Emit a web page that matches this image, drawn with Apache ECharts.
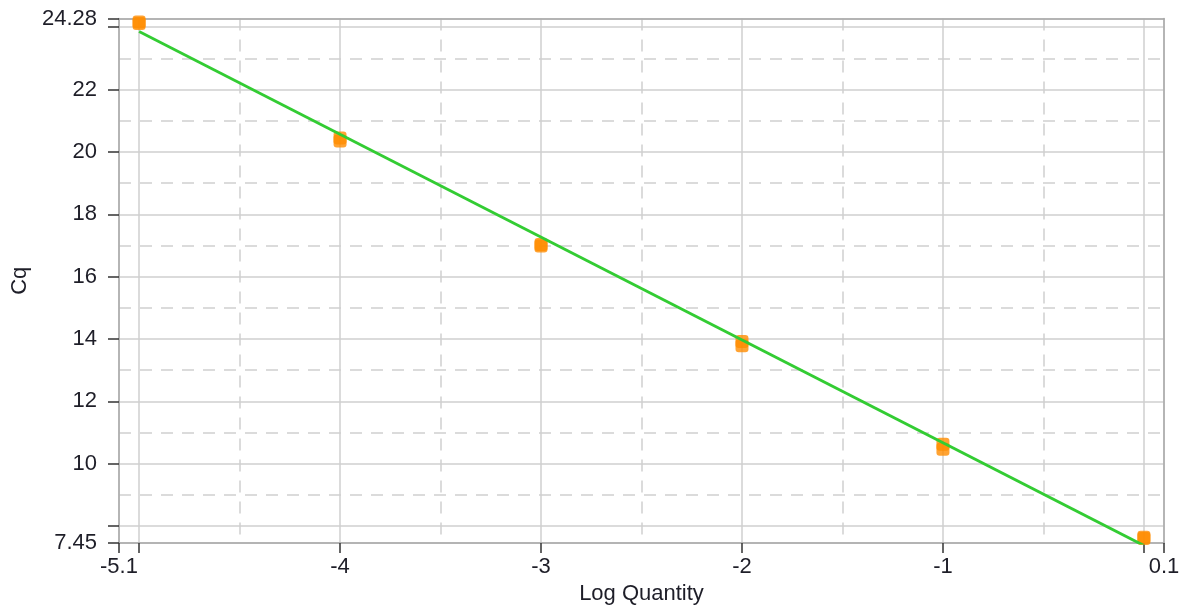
<!DOCTYPE html>
<html>
<head>
<meta charset="utf-8">
<script src="https://cdn.jsdelivr.net/npm/echarts@6/dist/echarts.min.js"></script>
<style>html,body{margin:0;padding:0;background:#fff}#c{width:1188px;height:610px}</style>
</head>
<body>
<div id="c"></div>
<script>
// Data
const logQuantity = [-5, -5, -4, -4, -3, -3, -2, -2, -1, -1, 0, 0];
const cqValues    = [24.17, 24.12, 20.45, 20.35, 17.03, 16.98, 13.92, 13.78, 10.62, 10.46, 7.64, 7.60];
const fitX = [-5, 0];
const fitY = [23.86, 7.37];

// Axis ranges and tick labels
const xMin = -5.1, xMax = 0.1;
const yMin = 7.45, yMax = 24.28;
const xTickValues = [-5.1, -5, -4, -3, -2, -1, 0, 0.1];
const xLabelValues = [-5.1, -4, -3, -2, -1, 0.1];
const xMinorGrid = [-4.5, -3.5, -2.5, -1.5, -0.5];
const yTickValues = [7.45, 8, 10, 12, 14, 16, 18, 20, 22, 24, 24.28];
const yLabelValues = [7.45, 10, 12, 14, 16, 18, 20, 22, 24.28];
const yMinorGrid = [9, 11, 13, 15, 17, 19, 21, 23];

const FONT = 'Liberation Sans';
const FS = 22;
const TXT = '#1e1e28';
const GRID = '#cfcfcf';
const AXIS = '#a8a8a8';

const chart = echarts.init(document.getElementById('c'), null, {renderer: 'canvas'});
chart.setOption({
  animation: false,
  backgroundColor: '#fff',
  grid: {left: 119, right: 24, top: 18.5, bottom: 63.5, containLabel: false},
  xAxis: [{
    type: 'value', min: xMin, max: xMax, position: 'bottom',
    name: 'Log Quantity', nameLocation: 'middle', nameGap: 39,
    nameTextStyle: {fontFamily: FONT, fontSize: FS, color: TXT},
    axisLine: {show: true, onZero: false, lineStyle: {color: AXIS, width: 1.5}},
    axisTick: {show: true, length: 10, customValues: xTickValues, lineStyle: {color: '#333', width: 1.5}},
    axisLabel: {customValues: xLabelValues, fontFamily: FONT, fontSize: FS, color: TXT, margin: 13,
      formatter: v => String(Math.round(v * 10) / 10)},
    splitLine: {show: true, lineStyle: {color: GRID, width: 1.5}}
  }, {
    type: 'value', min: xMin, max: xMax, position: 'top',
    axisLine: {show: true, onZero: false, lineStyle: {color: AXIS, width: 1.5}},
    axisTick: {show: false, customValues: xMinorGrid},
    axisLabel: {show: false},
    splitLine: {show: true, lineStyle: {color: GRID, width: 1.5, type: [12, 9]}}
  }],
  yAxis: [{
    type: 'value', min: yMin, max: yMax, position: 'left',
    name: 'Cq', nameLocation: 'middle', nameGap: 81,
    nameTextStyle: {fontFamily: FONT, fontSize: FS, color: TXT},
    axisLine: {show: true, onZero: false, lineStyle: {color: AXIS, width: 1.5}},
    axisTick: {show: true, length: 11, customValues: yTickValues, lineStyle: {color: '#333', width: 1.5}},
    axisLabel: {customValues: yLabelValues, fontFamily: FONT, fontSize: FS, color: TXT, margin: 22,
      formatter: v => String(Math.round(v * 100) / 100)},
    splitLine: {show: true, lineStyle: {color: GRID, width: 1.5}}
  }, {
    type: 'value', min: yMin, max: yMax, position: 'right',
    axisLine: {show: true, onZero: false, lineStyle: {color: AXIS, width: 1.5}},
    axisTick: {show: false, customValues: yMinorGrid},
    axisLabel: {show: false},
    splitLine: {show: true, lineStyle: {color: GRID, width: 1.5, type: [12, 9]}}
  }],
  series: [{
    type: 'scatter',
    data: logQuantity.map((x, i) => [x, cqValues[i]]),
    symbol: 'roundRect', symbolSize: 13,
    itemStyle: {color: '#ff8c00'},
    z: 2
  }, {
    type: 'line',
    data: fitX.map((x, i) => [x, fitY[i]]),
    showSymbol: false, symbol: 'none',
    lineStyle: {color: '#33cc33', width: 2.8},
    clip: true,
    z: 3
  }]
});
</script>
</body>
</html>
